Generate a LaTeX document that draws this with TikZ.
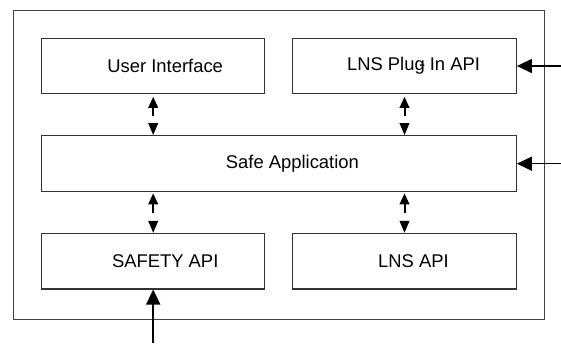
\documentclass[tikz,border=0pt]{standalone}
\usepackage{fontspec}
\setmainfont{Liberation Sans}
\usetikzlibrary{arrows.meta}
\begin{document}
\begin{tikzpicture}[x=1pt,y=-1pt,
  box/.style={draw=black!80,line width=1.2pt,minimum height=55.4pt,inner sep=0pt,font=\fontsize{18.4}{22}\selectfont},
  dbl/.style={line width=2pt,dash pattern=on 9pt off 30pt,{Triangle[length=11pt,width=9.5pt]}-{Triangle[length=12pt,width=9.5pt]}},
  inarrow/.style={line width=1.5pt,-{Triangle[length=15pt,width=14pt]}}]
\useasboundingbox (0,0) rectangle (561,343);
\draw[black!75,line width=1pt] (13.2,10) rectangle (544.2,319);
\node[box,minimum width=223.3pt] (ui) at (153.2,66) {\hspace*{24pt}User Interface};
\node[box,minimum width=223.6pt] (plug) at (404.5,66) {\hspace*{18pt}LNS Plug\rlap{\kern-0.3em-} In API};
\node[box,minimum width=474.8pt,minimum height=56pt] (safe) at (278.9,163.7) {\hspace*{27pt}Safe Application};
\node[box,minimum width=223.3pt] (safety) at (153.2,261.2) {\hspace*{24pt}SAFETY API};
\node[box,minimum width=223.6pt] (lns) at (404.5,261.2) {\hspace*{18pt}LNS API};
\draw[dbl,shorten <=2.5pt] (ui.south) -- (safe.north -| ui.south);
\draw[dbl,shorten <=2.5pt] (plug.south) -- (safe.north -| plug.south);
\draw[dbl,shorten <=1pt] (safe.south -| safety.north) -- (safety.north);
\draw[dbl,shorten <=1pt] (safe.south -| lns.north) -- (lns.north);
\coordinate (inplug) at (561,66);
\coordinate (insafe) at (561,163.7);
\coordinate (insafety) at (153.2,343);
\draw[inarrow] (inplug) -- (plug.east);
\draw[inarrow] (insafe) -- (safe.east);
\draw[inarrow] (insafety) -- (safety.south);
\end{tikzpicture}
\end{document}
